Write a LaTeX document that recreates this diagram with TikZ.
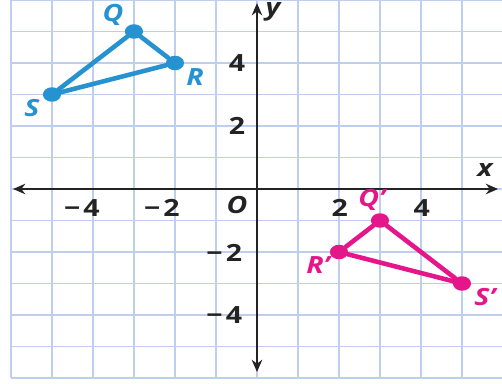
\documentclass[tikz,border=0pt]{standalone}
\usepackage{fontspec}
\setmainfont{Open Sans}
\usetikzlibrary{arrows.meta}
\definecolor{trigblue}{RGB}{38, 146, 208}
\definecolor{trigpink}{RGB}{228, 22, 138}
\definecolor{gridblue}{RGB}{190, 206, 236}
\definecolor{axisgray}{RGB}{35, 35, 35}
\newcommand{\negnum}[1]{−\kern1.5pt#1}

\begin{document}
\begin{tikzpicture}[x=0.82cm, y=0.63cm,
  gridline/.style={color=gridblue, line width=0.9pt, xstep=0.82cm, ystep=0.63cm},
  axis/.style={{Stealth[length=7pt, width=6pt]}-{Stealth[length=7pt, width=6pt]},
               line width=1pt, color=axisgray},
  num/.style={font=\fontsize{13.5}{16}\selectfont\bfseries, text=axisgray, xscale=1.2, inner sep=0pt},
  ptlbl/.style={font=\fontsize{13.5}{16}\selectfont\bfseries\itshape, xscale=1.2, inner sep=0pt},
  vdot/.style={circle, fill, minimum size=0.29cm, inner sep=0pt, xscale=1.25},
  side/.style={line width=2.6pt, line cap=round}
]
  \useasboundingbox (-6.268, -6.159) rectangle (5.976, 6.0);

  % Grid
  \draw[gridline] (-6, -6) grid (5.976, 6);

  % Axes
  \coordinate (xl) at (-5.95, 0);
  \coordinate (xr) at (5.88, 0);
  \coordinate (yt) at (0, 5.9);
  \coordinate (yb) at (0, -5.81);
  \draw[axis] (xl) -- (xr);
  \draw[axis] (yb) -- (yt);
  \node[ptlbl, text=axisgray] (xlab) at (5.56, 0.6)  {x};
  \node[ptlbl, text=axisgray] (ylab) at (0.39, 5.62) {y};
  \node[ptlbl, text=axisgray] (orig) at (-0.49, -0.5) {O};

  % Tick labels
  \node[num] (xm4) at (-4.27, -0.6) {\negnum{4}};
  \node[num] (xm2) at (-2.32, -0.6) {\negnum{2}};
  \node[num] (xp2) at (2.02, -0.6)  {2};
  \node[num] (xp4) at (4.02, -0.6)  {4};
  \node[num] (yp4) at (-0.49, 4.0)  {4};
  \node[num] (yp2) at (-0.49, 2.0)  {2};
  \node[num] (ym2) at (-0.8, -2.03) {\negnum{2}};
  \node[num] (ym4) at (-0.8, -4.0)  {\negnum{4}};

  % Triangle QRS
  \node[vdot, trigblue] (Q) at (-3, 5) {};
  \node[vdot, trigblue] (R) at (-2, 4) {};
  \node[vdot, trigblue] (S) at (-5, 3) {};
  \draw[side, trigblue] (Q) -- (R);
  \draw[side, trigblue] (R) -- (S);
  \draw[side, trigblue] (S) -- (Q);
  \node[ptlbl, text=trigblue] (lQ) at (-3.51, 5.52) {Q};
  \node[ptlbl, text=trigblue] (lR) at (-1.51, 3.56) {R};
  \node[ptlbl, text=trigblue] (lS) at (-5.49, 2.57) {S};

  % Image triangle Q'R'S'
  \node[vdot, trigpink] (Qp) at (3, -1) {};
  \node[vdot, trigpink] (Rp) at (2, -2) {};
  \node[vdot, trigpink] (Sp) at (5, -3) {};
  \draw[side, trigpink] (Qp) -- (Rp);
  \draw[side, trigpink] (Rp) -- (Sp);
  \draw[side, trigpink] (Sp) -- (Qp);
  \node[ptlbl, text=trigpink] (lQp) at (2.8, -0.35)  {Q'};
  \node[ptlbl, text=trigpink] (lRp) at (1.49, -2.41) {R'};
  \node[ptlbl, text=trigpink] (lSp) at (5.56, -3.43) {S'};
\end{tikzpicture}
\end{document}
